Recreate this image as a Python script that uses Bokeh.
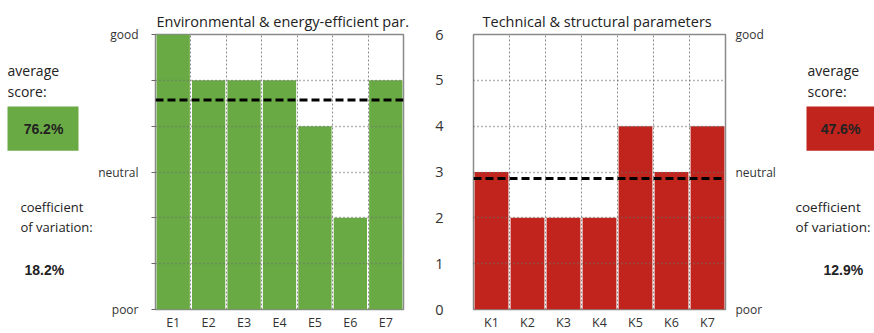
from bokeh.plotting import figure
from bokeh.layouts import row
from bokeh.models import Range1d, FixedTicker, Span, LinearAxis
from bokeh.core.properties import value
from bokeh.embed import file_html
from bokeh.resources import INLINE

# ---- data ----
E_labels = ["E1", "E2", "E3", "E4", "E5", "E6", "E7"]
E_scores = [6, 5, 5, 5, 4, 2, 5]
K_labels = ["K1", "K2", "K3", "K4", "K5", "K6", "K7"]
K_scores = [3, 2, 2, 2, 4, 3, 4]
y_ticks = [0, 1, 2, 3, 4, 5, 6]
scale_labels = {0: "poor", 3: "neutral", 6: "good"}
E_title = "Environmental & energy-efficient par."
K_title = "Technical & structural parameters"
E_avg_text = "76.2%"
E_cv_text = "18.2%"
K_avg_text = "47.6%"
K_cv_text = "12.9%"

GREEN = "#6AAA44"
RED = "#C0241D"
FONT = "Open Sans"
H = 333
TOP = 34      # frame top (px)
BOTTOM = 20   # bottom border (px)
FRAME_TOP_PX = TOP
FRAME_BOT_PX = H - BOTTOM


def chart(title, labels, scores, color, width, mbl, mbr, title_offset):
    xs = list(range(1, len(labels) + 1))
    p = figure(width=width, height=H, x_range=Range1d(0.5, len(labels) + 0.5),
               y_range=Range1d(y_ticks[0], y_ticks[-1]), output_backend="svg",
               toolbar_location=None, min_border_left=mbl, min_border_right=mbr,
               min_border_top=TOP, min_border_bottom=BOTTOM, title=title)
    p.title.text_font = FONT
    p.title.text_font_size = "14.5px"
    p.title.text_font_style = "normal"
    p.title.text_color = "#222222"
    p.title.offset = title_offset
    p.title.standoff = 8
    p.outline_line_color = "#8a8a8a"
    p.outline_line_width = 1.5

    p.vbar(x=xs, top=scores, width=0.94, bottom=0, fill_color=color, line_color=None)
    mean = sum(scores) / len(scores)
    p.add_layout(Span(location=mean, dimension="width", line_color="black",
                      line_width=3, line_dash="8 4"))

    p.xgrid.ticker = FixedTicker(ticks=[x + 0.5 for x in xs[:-1]])
    p.xgrid.grid_line_color = "#8c8c8c"
    p.xgrid.grid_line_dash = "2 2"
    p.xgrid.grid_line_width = 1
    p.ygrid.ticker = FixedTicker(ticks=y_ticks[1:-1])
    p.ygrid.grid_line_color = "#6f6f6f"
    p.ygrid.grid_line_dash = "1 3"
    p.ygrid.grid_line_width = 1.3
    p.ygrid.level = "overlay"

    p.xaxis.ticker = FixedTicker(ticks=xs)
    p.xaxis.major_label_overrides = {x: l for x, l in zip(xs, labels)}
    p.xaxis.axis_line_color = None
    p.xaxis.major_tick_line_color = None
    p.xaxis.minor_tick_line_color = None
    p.xaxis.major_tick_out = 0
    p.xaxis.minor_tick_out = 0
    p.xaxis.axis_label_standoff = 0
    p.xaxis.major_label_standoff = 4
    p.xaxis.major_label_text_font = FONT
    p.xaxis.major_label_text_font_size = "12.5px"
    p.xaxis.major_label_text_color = "#333333"
    return p


left_chart = chart(E_title, E_labels, E_scores, GREEN, 320, 60, 12, 1)
ya = left_chart.yaxis[0]
ya.ticker = FixedTicker(ticks=y_ticks)
ya.major_label_overrides = {t: scale_labels.get(t, "") for t in y_ticks}
ya.axis_line_color = None
ya.major_tick_out = 4
ya.major_tick_in = 0
ya.major_tick_line_color = "#666666"
ya.minor_tick_line_color = None
ya.major_label_standoff = 13
ya.major_label_text_font = FONT
ya.major_label_text_font_size = "12px"
ya.major_label_text_color = "#333333"

right_chart = chart(K_title, K_labels, K_scores, RED, 367, 58, 57, 9)
yb = right_chart.yaxis[0]
yb.ticker = FixedTicker(ticks=y_ticks)
yb.axis_line_color = None
yb.major_tick_line_color = None
yb.minor_tick_line_color = None
yb.major_tick_out = 0
yb.major_label_standoff = 30
yb.major_label_text_font = FONT
yb.major_label_text_font_size = "14.5px"
yb.major_label_text_color = "#333333"

yr = LinearAxis(ticker=FixedTicker(ticks=y_ticks),
                major_label_overrides={t: scale_labels.get(t, "") for t in y_ticks})
yr.axis_line_color = None
yr.major_tick_line_color = None
yr.minor_tick_line_color = None
yr.major_tick_out = 0
yr.major_label_standoff = 10
yr.major_label_text_font = FONT
yr.major_label_text_font_size = "12px"
yr.major_label_text_color = "#333333"
right_chart.add_layout(yr, "right")


def text_panel(width, color, avg_text, cv_text, ax, box_l, box_r, cx, cvx, cvv, cv_size):
    # panel coordinates are pixels from its top-left corner (y downward)
    p = figure(width=width, height=H, x_range=Range1d(0, width),
               y_range=Range1d(FRAME_BOT_PX, FRAME_TOP_PX),
               x_axis_type=None, y_axis_type=None, output_backend="svg",
               toolbar_location=None, min_border_left=0, min_border_right=0,
               min_border_top=TOP, min_border_bottom=BOTTOM)
    p.outline_line_color = None
    p.text(x=[ax, ax], y=[71, 92], text=["average", "score:"],
           text_font=value(FONT), text_font_size="14px", text_baseline="middle",
           text_color="#222222")
    p.quad(left=[box_l], right=[box_r], top=[107], bottom=[152], fill_color=color,
           line_color=None)
    p.text(x=[cx], y=[130], text=[avg_text], text_font=value("Liberation Sans"),
           text_font_size="14px", text_font_style="bold", text_align="center",
           text_baseline="middle", text_color="#222222")
    p.text(x=[cvx, cvx], y=[209, 229], text=["coefficient", "of variation:"],
           text_font=value(FONT), text_font_size=cv_size, text_baseline="middle",
           text_color="#222222")
    p.text(x=[cvv], y=[273], text=[cv_text], text_font=value("Liberation Sans"),
           text_font_size="14px", text_font_style="bold", text_baseline="middle",
           text_color="#222222")
    return p


left_text = text_panel(95, GREEN, E_avg_text, E_cv_text, 7, 7, 78, 43, 20, 24, "13px")
right_text = text_panel(92, RED, K_avg_text, K_cv_text, 25, 24, 92, 58, 13, 41, "13.5px")

layout = row(left_text, left_chart, right_chart, right_text)
open("out.html", "w").write(file_html(layout, INLINE))
